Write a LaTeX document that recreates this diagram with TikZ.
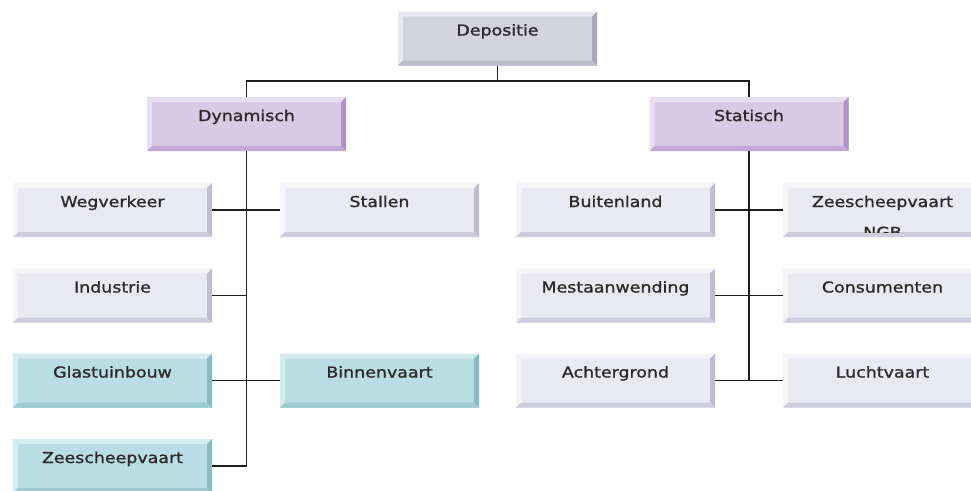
\documentclass[tikz,border=0pt]{standalone}
\usepackage{fontspec}
\setmainfont{DejaVu Sans}[FakeStretch=1.16,FakeBold=1.2]
\usetikzlibrary{calc}
\definecolor{txt}{HTML}{2A2A2A}
\definecolor{lnc}{HTML}{1E1E1E}
\definecolor{gF}{HTML}{D3D3DE}\definecolor{gL}{HTML}{E8E8EF}\definecolor{gD}{HTML}{A9A9BC}\definecolor{gB}{HTML}{BDBDCC}
\definecolor{pF}{HTML}{D9C9E5}\definecolor{pL}{HTML}{E9DEF1}\definecolor{pD}{HTML}{B092C8}\definecolor{pB}{HTML}{C2A9D6}
\definecolor{wF}{HTML}{E9E9F3}\definecolor{wL}{HTML}{F4F4F9}\definecolor{wD}{HTML}{BDBDCF}\definecolor{wB}{HTML}{CDCDDD}
\definecolor{cF}{HTML}{B9DDE4}\definecolor{cL}{HTML}{D4ECF0}\definecolor{cD}{HTML}{86BCC8}\definecolor{cB}{HTML}{9DCAD3}
\tikzset{
  lbl/.style={font=\fontsize{15}{18}\selectfont, text=txt, inner sep=0pt},
  bev/.style n args={4}{rectangle, lbl, minimum width=199pt, minimum height=54pt,
    text height=24pt, text depth=30pt, fill=#1,
    path picture={
      \fill[#2] (path picture bounding box.north west) -- (path picture bounding box.north east)
        -- ++(-5pt,-5pt) -- ($(path picture bounding box.north west)+(5pt,-5pt)$) -- cycle;
      \fill[#2] (path picture bounding box.north west) -- ($(path picture bounding box.north west)+(5pt,-5pt)$)
        -- ($(path picture bounding box.south west)+(5pt,5pt)$) -- (path picture bounding box.south west) -- cycle;
      \fill[#3] (path picture bounding box.north east) -- (path picture bounding box.south east)
        -- ++(-5pt,5pt) -- ($(path picture bounding box.north east)+(-5pt,-5pt)$) -- cycle;
      \fill[#4] (path picture bounding box.south west) -- (path picture bounding box.south east)
        -- ++(-5pt,5pt) -- ($(path picture bounding box.south west)+(5pt,5pt)$) -- cycle;
    }},
  topbox/.style={bev={gF}{gL}{gD}{gB}},
  catbox/.style={bev={pF}{pL}{pD}{pB}},
  srcbox/.style={bev={wF}{wL}{wD}{wB}},
  cyanbox/.style={bev={cF}{cL}{cD}{cB}},
  conn/.style={draw=lnc, line width=1.9pt}
}
\begin{document}
\begin{tikzpicture}[x=1pt,y=-1pt]
\useasboundingbox (0,0) rectangle (971,490);
\clip (0,0) rectangle (971,490);
\fill[white] (0,0) rectangle (971,490);
% top
\node[topbox] (dep) at (497.5,38.5) {Depositie};
\node[catbox] (dyn) at (246.5,124) {Dynamisch};
\node[catbox] (sta) at (749,124) {Statisch};
% left group
\node[srcbox] (weg) at (112.5,210) {Wegverkeer};
\node[srcbox] (stal) at (379.5,210) {Stallen};
\node[srcbox] (ind) at (112.5,295.5) {Industrie};
\node[cyanbox] (glas) at (112.5,380.5) {Glastuinbouw};
\node[cyanbox] (binn) at (379.5,380.5) {Binnenvaart};
\node[cyanbox] (zee) at (112.5,466) {Zeescheepvaart};
% right group
\node[srcbox] (buit) at (615.5,210) {Buitenland};
\node[srcbox] (zngb) at (882.5,210) {Zeescheepvaart};
\node[srcbox] (mest) at (615.5,295.5) {Mestaanwending};
\node[srcbox] (cons) at (882.5,295.5) {Consumenten};
\node[srcbox] (acht) at (615.5,380.5) {Achtergrond};
\node[srcbox] (lucht) at (882.5,380.5) {Luchtvaart};
\begin{scope}
  \clip ($(zngb.north west)+(5pt,-5pt)$) rectangle ($(zngb.south east)+(-5pt,5pt)$);
  \node[lbl, anchor=base] (ngb) at ($(zngb.north)+(0pt,-55pt)$) {NGB};
\end{scope}
% connectors
\coordinate (bus) at ($(dep.south)+(0pt,-15pt)$);
\draw[conn] (dep.south) -- (bus);
\draw[conn] (dyn.north) |- (bus) -| (sta.north);
\draw[conn] (dyn.south) |- (zee.east);
\draw[conn] (weg.east) -- (stal.west);
\draw[conn] (ind.east) -- (ind.east -| dyn.south);
\draw[conn] (glas.east) -- (binn.west);
\draw[conn] (sta.south) -- (acht.east -| sta.south);
\draw[conn] (buit.east) -- (zngb.west);
\draw[conn] (mest.east) -- (cons.west);
\draw[conn] (acht.east) -- (lucht.west);
\end{tikzpicture}
\end{document}
